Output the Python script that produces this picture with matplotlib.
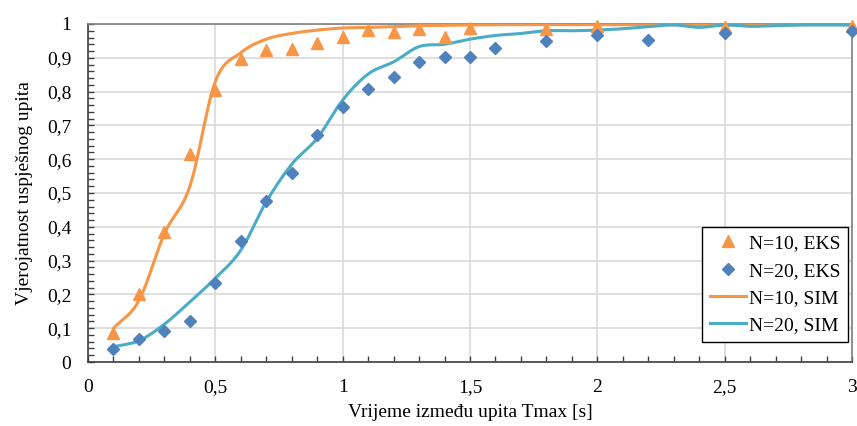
import numpy as np
import matplotlib
matplotlib.use("Agg")
import matplotlib.pyplot as plt
from matplotlib.ticker import MultipleLocator, FuncFormatter

# ---- data ----
eks10_x = [0.1, 0.2, 0.3, 0.4, 0.5, 0.6, 0.7, 0.8, 0.9, 1.0, 1.1, 1.2, 1.3, 1.4, 1.5, 1.8, 2.0, 2.5, 3.0]
eks10_y = [0.085, 0.201, 0.384, 0.614, 0.805, 0.896, 0.923, 0.925, 0.943, 0.962, 0.982, 0.977, 0.984,
           0.962, 0.987, 0.984, 0.994, 0.990, 0.995]

eks20_x = [0.1, 0.2, 0.3, 0.4, 0.5, 0.6, 0.7, 0.8, 0.9, 1.0, 1.1, 1.2, 1.3, 1.4, 1.5, 1.6, 1.8, 2.0, 2.2, 2.5, 3.0]
eks20_y = [0.038, 0.067, 0.093, 0.122, 0.235, 0.359, 0.476, 0.560, 0.672, 0.754, 0.808, 0.844, 0.888,
           0.901, 0.903, 0.930, 0.950, 0.966, 0.954, 0.972, 0.980]

sim_x = [0.1, 0.2, 0.3, 0.4, 0.5, 0.6, 0.7, 0.8, 0.9, 1.0, 1.1, 1.2, 1.3, 1.4, 1.5, 1.6, 1.7, 1.8, 1.9, 2.0,
         2.1, 2.2, 2.3, 2.4, 2.5, 2.6, 2.7, 2.8, 2.9, 3.0]
sim10_y = [0.100, 0.182, 0.380, 0.520, 0.830, 0.915, 0.955, 0.972, 0.982, 0.988, 0.990, 0.992, 0.995, 0.996,
           0.997, 0.998, 0.998, 0.998, 0.998, 0.998, 0.998, 0.998, 0.998, 0.998, 0.998, 0.998, 0.998, 0.998,
           0.998, 0.998]
sim20_y = [0.045, 0.063, 0.112, 0.178, 0.248, 0.331, 0.474, 0.585, 0.662, 0.775, 0.852, 0.888, 0.933, 0.940,
           0.955, 0.966, 0.972, 0.980, 0.980, 0.982, 0.986, 0.992, 0.997, 0.990, 0.997, 0.993, 0.995, 0.997,
           0.997, 0.997]

x_ticklabels = ["0", "0,5", "1", "1,5", "2", "2,5", "3"]


def smooth(xs, ys, n=30):
    """Catmull-Rom spline through the points (like Excel smoothed lines)."""
    p = np.column_stack([xs, ys]).astype(float)
    p = np.vstack([2 * p[0] - p[1], p, 2 * p[-1] - p[-2]])
    out = []
    t = np.linspace(0, 1, n, endpoint=False)[:, None]
    for i in range(1, len(p) - 2):
        p0, p1, p2, p3 = p[i - 1], p[i], p[i + 1], p[i + 2]
        m1 = (p2 - p0) / 2
        m2 = (p3 - p1) / 2
        h00 = 2 * t**3 - 3 * t**2 + 1
        h10 = t**3 - 2 * t**2 + t
        h01 = -2 * t**3 + 3 * t**2
        h11 = t**3 - t**2
        out.append(h00 * p1 + h10 * m1 + h01 * p2 + h11 * m2)
    out.append(p[-2][None, :])
    r = np.vstack(out)
    return r[:, 0], r[:, 1]


plt.rcParams['font.family'] = ['Liberation Serif', 'DejaVu Serif']

fig = plt.figure(figsize=(8.57, 4.26), dpi=100)
ax = fig.add_axes([0.1027, 0.1502, 0.8915, 0.7935])

orange = '#F79646'
blue_m = '#4F81BD'
blue_l = '#4BACC6'

ax.plot(eks10_x, eks10_y, linestyle='none', marker='^', markersize=9, color=orange,
        label='N=10, EKS', zorder=4, clip_on=False)
ax.plot(eks20_x, eks20_y, linestyle='none', marker='D', markersize=6.5, color=blue_m,
        label='N=20, EKS', zorder=5, clip_on=False)
sx, sy = smooth(sim_x, sim10_y)
ax.plot(sx, sy, color=orange, lw=2.2, label='N=10, SIM', zorder=3)
sx, sy = smooth(sim_x, sim20_y)
ax.plot(sx, sy, color=blue_l, lw=2.2, label='N=20, SIM', zorder=3)

ax.set_xlim(0, 3)
ax.set_ylim(0, 1)
ax.xaxis.set_major_locator(MultipleLocator(0.5))
ax.xaxis.set_minor_locator(MultipleLocator(0.1))
ax.yaxis.set_major_locator(MultipleLocator(0.1))
ax.yaxis.set_minor_locator(MultipleLocator(0.02))
ax.set_xticks(np.arange(0, 3.01, 0.5))
ax.set_xticklabels(x_ticklabels)
ax.yaxis.set_major_formatter(FuncFormatter(lambda v, p: ('%g' % round(v, 1)).replace('.', ',')))

ax.grid(True, which='major', color='#D9D9D9', lw=1.2)
ax.set_axisbelow(True)
ax.tick_params(which='both', direction='in', colors='#404040', labelcolor='black', labelsize=14, pad=12)
ax.tick_params(which='major', length=4, width=1)
ax.tick_params(which='minor', length=4, width=1)
for s in ax.spines.values():
    s.set_color('#808080')
    s.set_linewidth(1.2)
ax.spines['left'].set_color('#404040')
ax.spines['bottom'].set_color('#404040')

ax.set_xlabel('Vrijeme između upita Tmax [s]', fontsize=14, labelpad=6)
ax.set_ylabel('Vjerojatnost uspješnog upita', fontsize=14, labelpad=10)

leg = ax.legend(loc='lower right', bbox_to_anchor=(0.995, 0.059), borderaxespad=0, fontsize=14,
                frameon=True, fancybox=False, edgecolor='black', framealpha=1,
                handlelength=1.85, handletextpad=0.15, labelspacing=0.5, borderpad=0.4)
leg.get_frame().set_linewidth(1.0)

fig.savefig('out.png', dpi=100)
